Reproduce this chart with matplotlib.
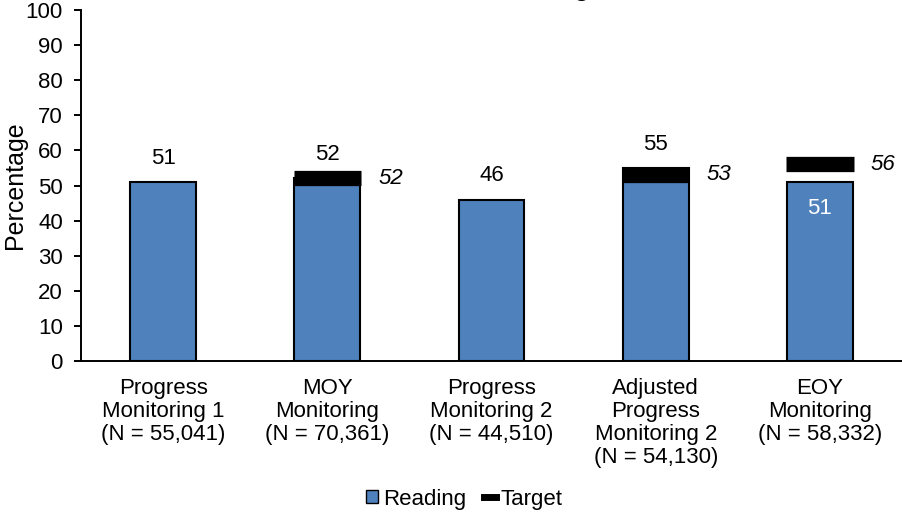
import numpy as np
import matplotlib
matplotlib.use("Agg")
import matplotlib.pyplot as plt
from matplotlib.patches import Patch
from matplotlib.lines import Line2D

categories = ["Progress\nMonitoring 1\n(N = 55,041)",
              "MOY\nMonitoring\n(N = 70,361)",
              "Progress\nMonitoring 2\n(N = 44,510)",
              "Adjusted\nProgress\nMonitoring 2\n(N = 54,130)",
              "EOY\nMonitoring\n(N = 58,332)"]
reading = [51, 52, 46, 55, 51]
target = [np.nan, 52, np.nan, 53, 56]
yticks = list(range(0, 101, 10))
title = "Third Grade Reading"

plt.rcParams['font.family'] = ['Liberation Sans', 'DejaVu Sans']
FS = 16
BLUE = "#4F81BD"

fig = plt.figure(figsize=(9.03, 5.13), dpi=100)
ax = fig.add_axes([81/903, 1-361/513, 821/903, 351/513])

x = np.arange(len(categories))
w = 0.4
ax.bar(x, reading, width=w, color=BLUE, edgecolor='black', linewidth=1.5, zorder=2)

tx = x.astype(float)
ax.hlines(target, tx - w/2 - 0.005, tx + w/2 + 0.005, colors='black', linewidth=11,
          capstyle='butt', zorder=3)

for i, v in enumerate(reading):
    if i == 4:
        ax.annotate(str(v), (x[i], v), xytext=(0, -19), textcoords='offset points',
                    ha='center', va='center', fontsize=FS, color='white', zorder=4)
    else:
        ax.annotate(str(v), (x[i], v), xytext=(0, 17), textcoords='offset points',
                    ha='center', va='center', fontsize=FS, color='black', zorder=4)

for i, t in enumerate(target):
    if not np.isnan(t):
        ax.annotate(str(int(t)), (x[i] + w/2, t), xytext=(13, 0), textcoords='offset points',
                    ha='left', va='center', fontsize=FS, style='italic', zorder=4)

ax.set_xlim(-0.5, len(categories) - 0.5)
ax.set_ylim(0, 100)
ax.set_yticks(yticks)
ax.set_xticks(x)
ax.set_xticklabels(categories, fontsize=FS, linespacing=1.13)
ax.tick_params(axis='x', length=0, pad=12)
ax.tick_params(axis='y', length=5, width=1.4, pad=8, labelsize=FS, direction='out')
for s in ['top', 'right']:
    ax.spines[s].set_visible(False)
for s in ['left', 'bottom']:
    ax.spines[s].set_linewidth(1.4)

ax.set_ylabel('Percentage', fontsize=18)
ax.yaxis.set_label_coords(-0.066, 0.5)

fig.text(590/903, 1 + 4/513, title, ha='right', va='baseline', fontsize=18, fontweight='bold')

handles = [Patch(facecolor=BLUE, edgecolor='black', linewidth=1),
           Line2D([], [], color='black', linewidth=5)]
fig.legend(handles, ['Reading', 'Target'], loc='center', bbox_to_anchor=(0.514, 0.027),
           ncol=2, frameon=False, fontsize=FS, handlelength=0.55, handleheight=0.55,
           handletextpad=0.2, columnspacing=0.8, borderpad=0, borderaxespad=0)

fig.savefig('out.png', dpi=100)
